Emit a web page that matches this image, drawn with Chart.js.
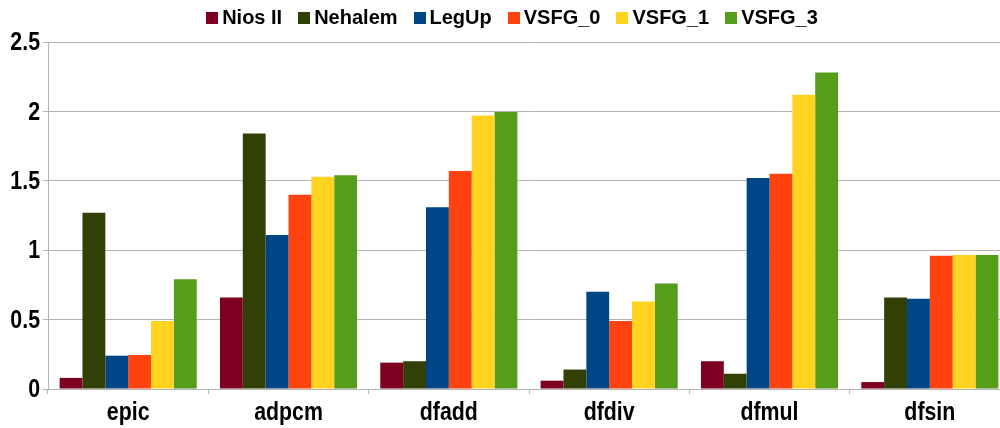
<!DOCTYPE html>
<html>
<head>
<meta charset="utf-8">
<script src="https://cdn.jsdelivr.net/npm/chart.js@4/dist/chart.umd.min.js"></script>
<style>
  html, body { margin: 0; padding: 0; background: #fff; overflow: hidden; }
  #wrap { width: 1010px; height: 428px; position: relative; }
</style>
</head>
<body>
<div id="wrap"><canvas id="c"></canvas></div>
<script>
// Benchmarks and per-series speedup values
const categories = ['epic', 'adpcm', 'dfadd', 'dfdiv', 'dfmul', 'dfsin'];
const niosII  = [0.08, 0.66, 0.19, 0.06, 0.20, 0.05];
const nehalem = [1.27, 1.84, 0.20, 0.14, 0.11, 0.66];
const legUp   = [0.24, 1.11, 1.31, 0.70, 1.52, 0.65];
const vsfg0   = [0.245, 1.40, 1.57, 0.49, 1.55, 0.96];
const vsfg1   = [0.49, 1.53, 1.97, 0.63, 2.12, 0.965];
const vsfg3   = [0.79, 1.54, 1.995, 0.76, 2.28, 0.965];
const yTicks  = [0, 0.5, 1, 1.5, 2, 2.5];
const yTickLabels = ['0', '0.5', '1', '1.5', '2', '2.5'];

const FONT = '"Liberation Sans", Arial, sans-serif';
const GRID = '#b3b3b3';
const NARROW = 0.82;          // horizontal squeeze for the condensed axis labels
const AXIS_FONT = 'bold 26px ' + FONT;
const LEGEND_FONT = 'bold 20px ' + FONT;

const series = [
  { label: 'Nios II', data: niosII,  color: '#7e0021' },
  { label: 'Nehalem', data: nehalem, color: '#314004' },
  { label: 'LegUp',   data: legUp,   color: '#004586' },
  { label: 'VSFG_0',  data: vsfg0,   color: '#ff420e' },
  { label: 'VSFG_1',  data: vsfg1,   color: '#ffd320' },
  { label: 'VSFG_3',  data: vsfg3,   color: '#579d1c' }
];

// Condensed tick labels for both axes, placed from the scales' own pixel mapping
const narrowTicks = {
  id: 'narrowTicks',
  afterDraw(chart) {
    const ctx = chart.ctx;
    const x = chart.scales.x, y = chart.scales.y;
    ctx.save();
    ctx.fillStyle = '#000';
    ctx.font = AXIS_FONT;
    ctx.textBaseline = 'middle';
    ctx.textAlign = 'right';
    yTicks.forEach((v, i) => {
      ctx.save();
      ctx.translate(y.right - 8, y.getPixelForValue(v) + 1);
      ctx.scale(NARROW, 1);
      ctx.fillText(yTickLabels[i], 0, 0);
      ctx.restore();
    });
    ctx.textBaseline = 'alphabetic';
    ctx.textAlign = 'center';
    categories.forEach((c, i) => {
      ctx.save();
      ctx.translate(x.getPixelForValue(i), x.top + 31);
      ctx.scale(NARROW, 1);
      ctx.fillText(c, 0, 0);
      ctx.restore();
    });
    ctx.restore();
  }
};

// Single-row legend with a small square swatch tight against each label
const compactLegend = {
  id: 'compactLegend',
  afterDraw(chart) {
    const ctx = chart.ctx;
    const box = 12, gapText = 4, gapItem = 16, centerX = 512, baseline = 24;
    ctx.save();
    ctx.font = LEGEND_FONT;
    ctx.textBaseline = 'alphabetic';
    ctx.textAlign = 'left';
    const items = chart.data.datasets.map(d => ({
      label: d.label, color: d.backgroundColor, w: ctx.measureText(d.label).width
    }));
    const total = items.reduce((s, it) => s + box + gapText + it.w, 0) + gapItem * (items.length - 1);
    let cx = centerX - total / 2;
    items.forEach(it => {
      ctx.fillStyle = it.color;
      ctx.fillRect(Math.round(cx), 12, box, box);
      ctx.fillStyle = '#000';
      ctx.fillText(it.label, cx + box + gapText, baseline);
      cx += box + gapText + it.w + gapItem;
    });
    ctx.restore();
  }
};

new Chart(document.getElementById('c'), {
  type: 'bar',
  data: {
    labels: categories,
    datasets: series.map(s => ({
      label: s.label,
      data: s.data,
      backgroundColor: s.color,
      borderWidth: 0,
      categoryPercentage: 0.855,
      barPercentage: 1.0
    }))
  },
  plugins: [narrowTicks, compactLegend],
  options: {
    responsive: true,
    maintainAspectRatio: false,
    animation: false,
    layout: { padding: { top: 42, right: 0, bottom: 0, left: 0 } },
    plugins: {
      tooltip: { enabled: false },
      legend: { display: false }
    },
    scales: {
      x: {
        grid: { display: true, drawOnChartArea: false, offset: true, color: GRID, tickLength: 5, tickColor: GRID },
        border: { display: true, color: GRID },
        ticks: { display: false },
        afterFit: s => { s.height = 39; }
      },
      y: {
        min: 0,
        max: 2.5,
        afterBuildTicks: s => { s.ticks = yTicks.map(v => ({ value: v })); },
        grid: { color: GRID, tickLength: 5, tickColor: GRID },
        border: { display: true, color: GRID },
        ticks: { display: false },
        afterFit: s => { s.width = 48; }
      }
    }
  }
});
</script>
</body>
</html>
